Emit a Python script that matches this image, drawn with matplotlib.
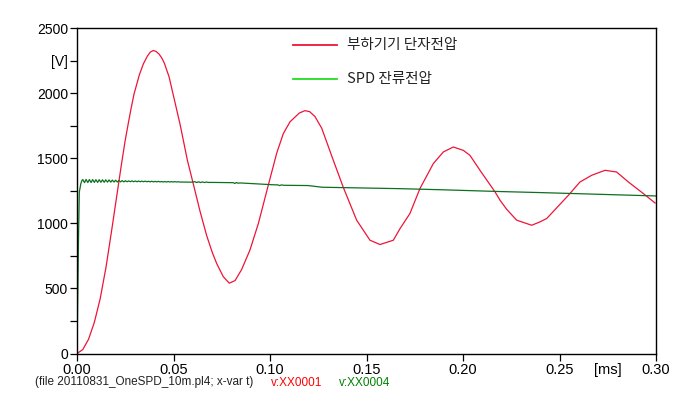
import matplotlib
matplotlib.use("Agg")
import matplotlib.pyplot as plt

# ---- data (time in ms, voltage in V) ----
red_t = [0.0000, 0.0030, 0.0060, 0.0090, 0.0120, 0.0150, 0.0180, 0.0206, 0.0231, 0.0249,
         0.0266, 0.0280, 0.0295, 0.0323, 0.0344, 0.0365, 0.0380, 0.0395, 0.0410, 0.0425,
         0.0440, 0.0453, 0.0477, 0.0513, 0.0534, 0.0551, 0.0572, 0.0603, 0.0637, 0.0672,
         0.0700, 0.0724, 0.0758, 0.0789, 0.0819, 0.0853, 0.0896, 0.0940, 0.0991, 0.1035,
         0.1069, 0.1104, 0.1152, 0.1181, 0.1205, 0.1233, 0.1268, 0.1328, 0.1380, 0.1449,
         0.1518, 0.1570, 0.1639, 0.1674, 0.1725, 0.1777, 0.1846, 0.1898, 0.1950, 0.2002,
         0.2036, 0.2088, 0.2166, 0.2192, 0.2226, 0.2278, 0.2356, 0.2399, 0.2434, 0.2546,
         0.2606, 0.2667, 0.2736, 0.2796, 0.2857, 0.2934, 0.2995]
red_v = [0, 30, 110, 240, 420, 660, 950, 1210, 1460, 1630,
         1770, 1880, 1990, 2140, 2225, 2285, 2315, 2327, 2320, 2300,
         2268, 2228, 2125, 1895, 1760, 1637, 1484, 1300, 1095, 905,
         780, 690, 590, 540, 560, 645, 794, 1000, 1292, 1540,
         1689, 1780, 1847, 1865, 1858, 1820, 1730, 1484, 1275, 1024,
         870, 837, 870, 960, 1075, 1267, 1458, 1548, 1586, 1560,
         1522, 1407, 1241, 1177, 1108, 1024, 985, 1011, 1037, 1215,
         1317, 1369, 1407, 1394, 1317, 1229, 1156]

green_t = [0.0000, 0.0004, 0.0008, 0.0012, 0.0020, 0.0026,
           0.0030, 0.0039, 0.0047, 0.0056, 0.0064, 0.0073, 0.0081, 0.0090, 0.0098, 0.0107,
           0.0115, 0.0124, 0.0132, 0.0141, 0.0149, 0.0158, 0.0166, 0.0175, 0.0183, 0.0192,
           0.0200, 0.0209, 0.0217, 0.0226, 0.0234, 0.0243, 0.0251, 0.0260, 0.0268, 0.0277,
           0.0285, 0.0294, 0.0302, 0.0311, 0.0319, 0.0328, 0.0336, 0.0345, 0.0353, 0.0362,
           0.0370, 0.0379, 0.0387, 0.0396, 0.0404, 0.0413, 0.0421, 0.0430, 0.0438, 0.0447,
           0.0455, 0.0464, 0.0472, 0.0481, 0.0489, 0.0498, 0.0506, 0.0515, 0.0523, 0.0532,
           0.0600, 0.0610, 0.0620, 0.0630, 0.0640, 0.0650, 0.0660, 0.0670, 0.0680, 0.0700,
           0.0810, 0.0818, 0.0826, 0.0834, 0.0845, 0.1016, 0.1040, 0.1050, 0.1060, 0.1070,
           0.1197, 0.1270, 0.1674, 0.1880, 0.2190, 0.2399, 0.3000]
green_v = [0, 450, 900, 1240, 1305, 1330,
           1336, 1312, 1337, 1313, 1336, 1313, 1336, 1314, 1335, 1314,
           1335, 1315, 1334, 1315, 1334, 1316, 1333, 1316, 1332, 1317,
           1331, 1317, 1329, 1318, 1328, 1318, 1327, 1319, 1326, 1319,
           1326, 1319, 1325, 1319, 1325, 1319, 1324, 1319, 1324, 1319,
           1323, 1318, 1323, 1318, 1322, 1318, 1322, 1318, 1321, 1317,
           1321, 1317, 1321, 1317, 1320, 1317, 1320, 1317, 1319, 1317,
           1316, 1320, 1313, 1319, 1313, 1318, 1313, 1317, 1314, 1314,
           1312, 1306, 1313, 1308, 1310, 1296, 1295, 1290, 1295, 1292,
           1290, 1277, 1266, 1258, 1244, 1236, 1210]

y_ticks = [0, 250, 500, 750, 1000, 1250, 1500, 1750, 2000, 2250, 2500]
y_labels = ['0', '', '500', '', '1000', '', '1500', '', '2000', '[V]', '2500']
x_ticks = [0.00, 0.05, 0.10, 0.15, 0.20, 0.25, 0.30]
x_labels = ['0.00', '0.05', '0.10', '0.15', '0.20', '0.25', '0.30']
x_unit_pos = [0.275]
x_unit_label = ['[ms]']

legend_labels = ['부하기기 단자전압', 'SPD 잔류전압']
footer = ['(file 20110831_OneSPD_10m.pl4; x-var t)', 'v:XX0001', 'v:XX0004']

RED = '#ee1438'
DKGREEN = '#0b7020'
LGGREEN = '#22dd22'

fig = plt.figure(figsize=(6.95, 4.04), dpi=100)
ax = fig.add_axes([77 / 695, 50.5 / 404, 579 / 695, 325.5 / 404])

ax.plot(red_t, red_v, color=RED, lw=0.9)
ax.plot(green_t, green_v, color=DKGREEN, lw=0.9)

ax.set_xlim(0, 0.30)
ax.set_ylim(0, 2500)

lab_font = {'family': 'Liberation Sans'}
ax.set_yticks(y_ticks)
ax.set_yticklabels(y_labels, fontsize=10, **lab_font)
ax.set_xticks(x_ticks)
ax.set_xticklabels(x_labels, fontsize=10.5, **lab_font)
ax.set_xticks(x_unit_pos, minor=True)
ax.set_xticklabels(x_unit_label, minor=True, fontsize=10.5, **lab_font)
ax.tick_params(axis='x', which='major', direction='out', length=5, width=0.9, pad=1.5)
ax.tick_params(axis='x', which='minor', length=0, pad=6.5)
ax.tick_params(axis='y', which='major', direction='out', length=5, width=0.9, pad=1.5)

for s in ax.spines.values():
    s.set_linewidth(1.0)
    s.set_color('black')

# legend drawn as in the original (pasted on)
for lab, col, yy in zip(legend_labels, [RED, LGGREEN], [0.948, 0.843]):
    ax.plot([0.373, 0.449], [yy, yy], color=col, lw=1.3, transform=ax.transAxes,
            clip_on=False)
    ax.text(0.466, yy, lab, transform=ax.transAxes, va='center', ha='left',
            fontsize=10.5, family=['Noto Sans CJK KR', 'DejaVu Sans'], color='#222222')

# footer
fy = 1 - 382.5 / 404
fig.text(35 / 695, fy, footer[0], fontsize=8.5, family='Liberation Sans',
         va='center', ha='left', color='#222222')
fig.text(271 / 695, fy, footer[1], fontsize=8.5, family='Liberation Sans',
         va='center', ha='left', color='#ff0000')
fig.text(339 / 695, fy, footer[2], fontsize=8.5, family='Liberation Sans',
         va='center', ha='left', color='#008000')

fig.savefig('out.png', dpi=100)
